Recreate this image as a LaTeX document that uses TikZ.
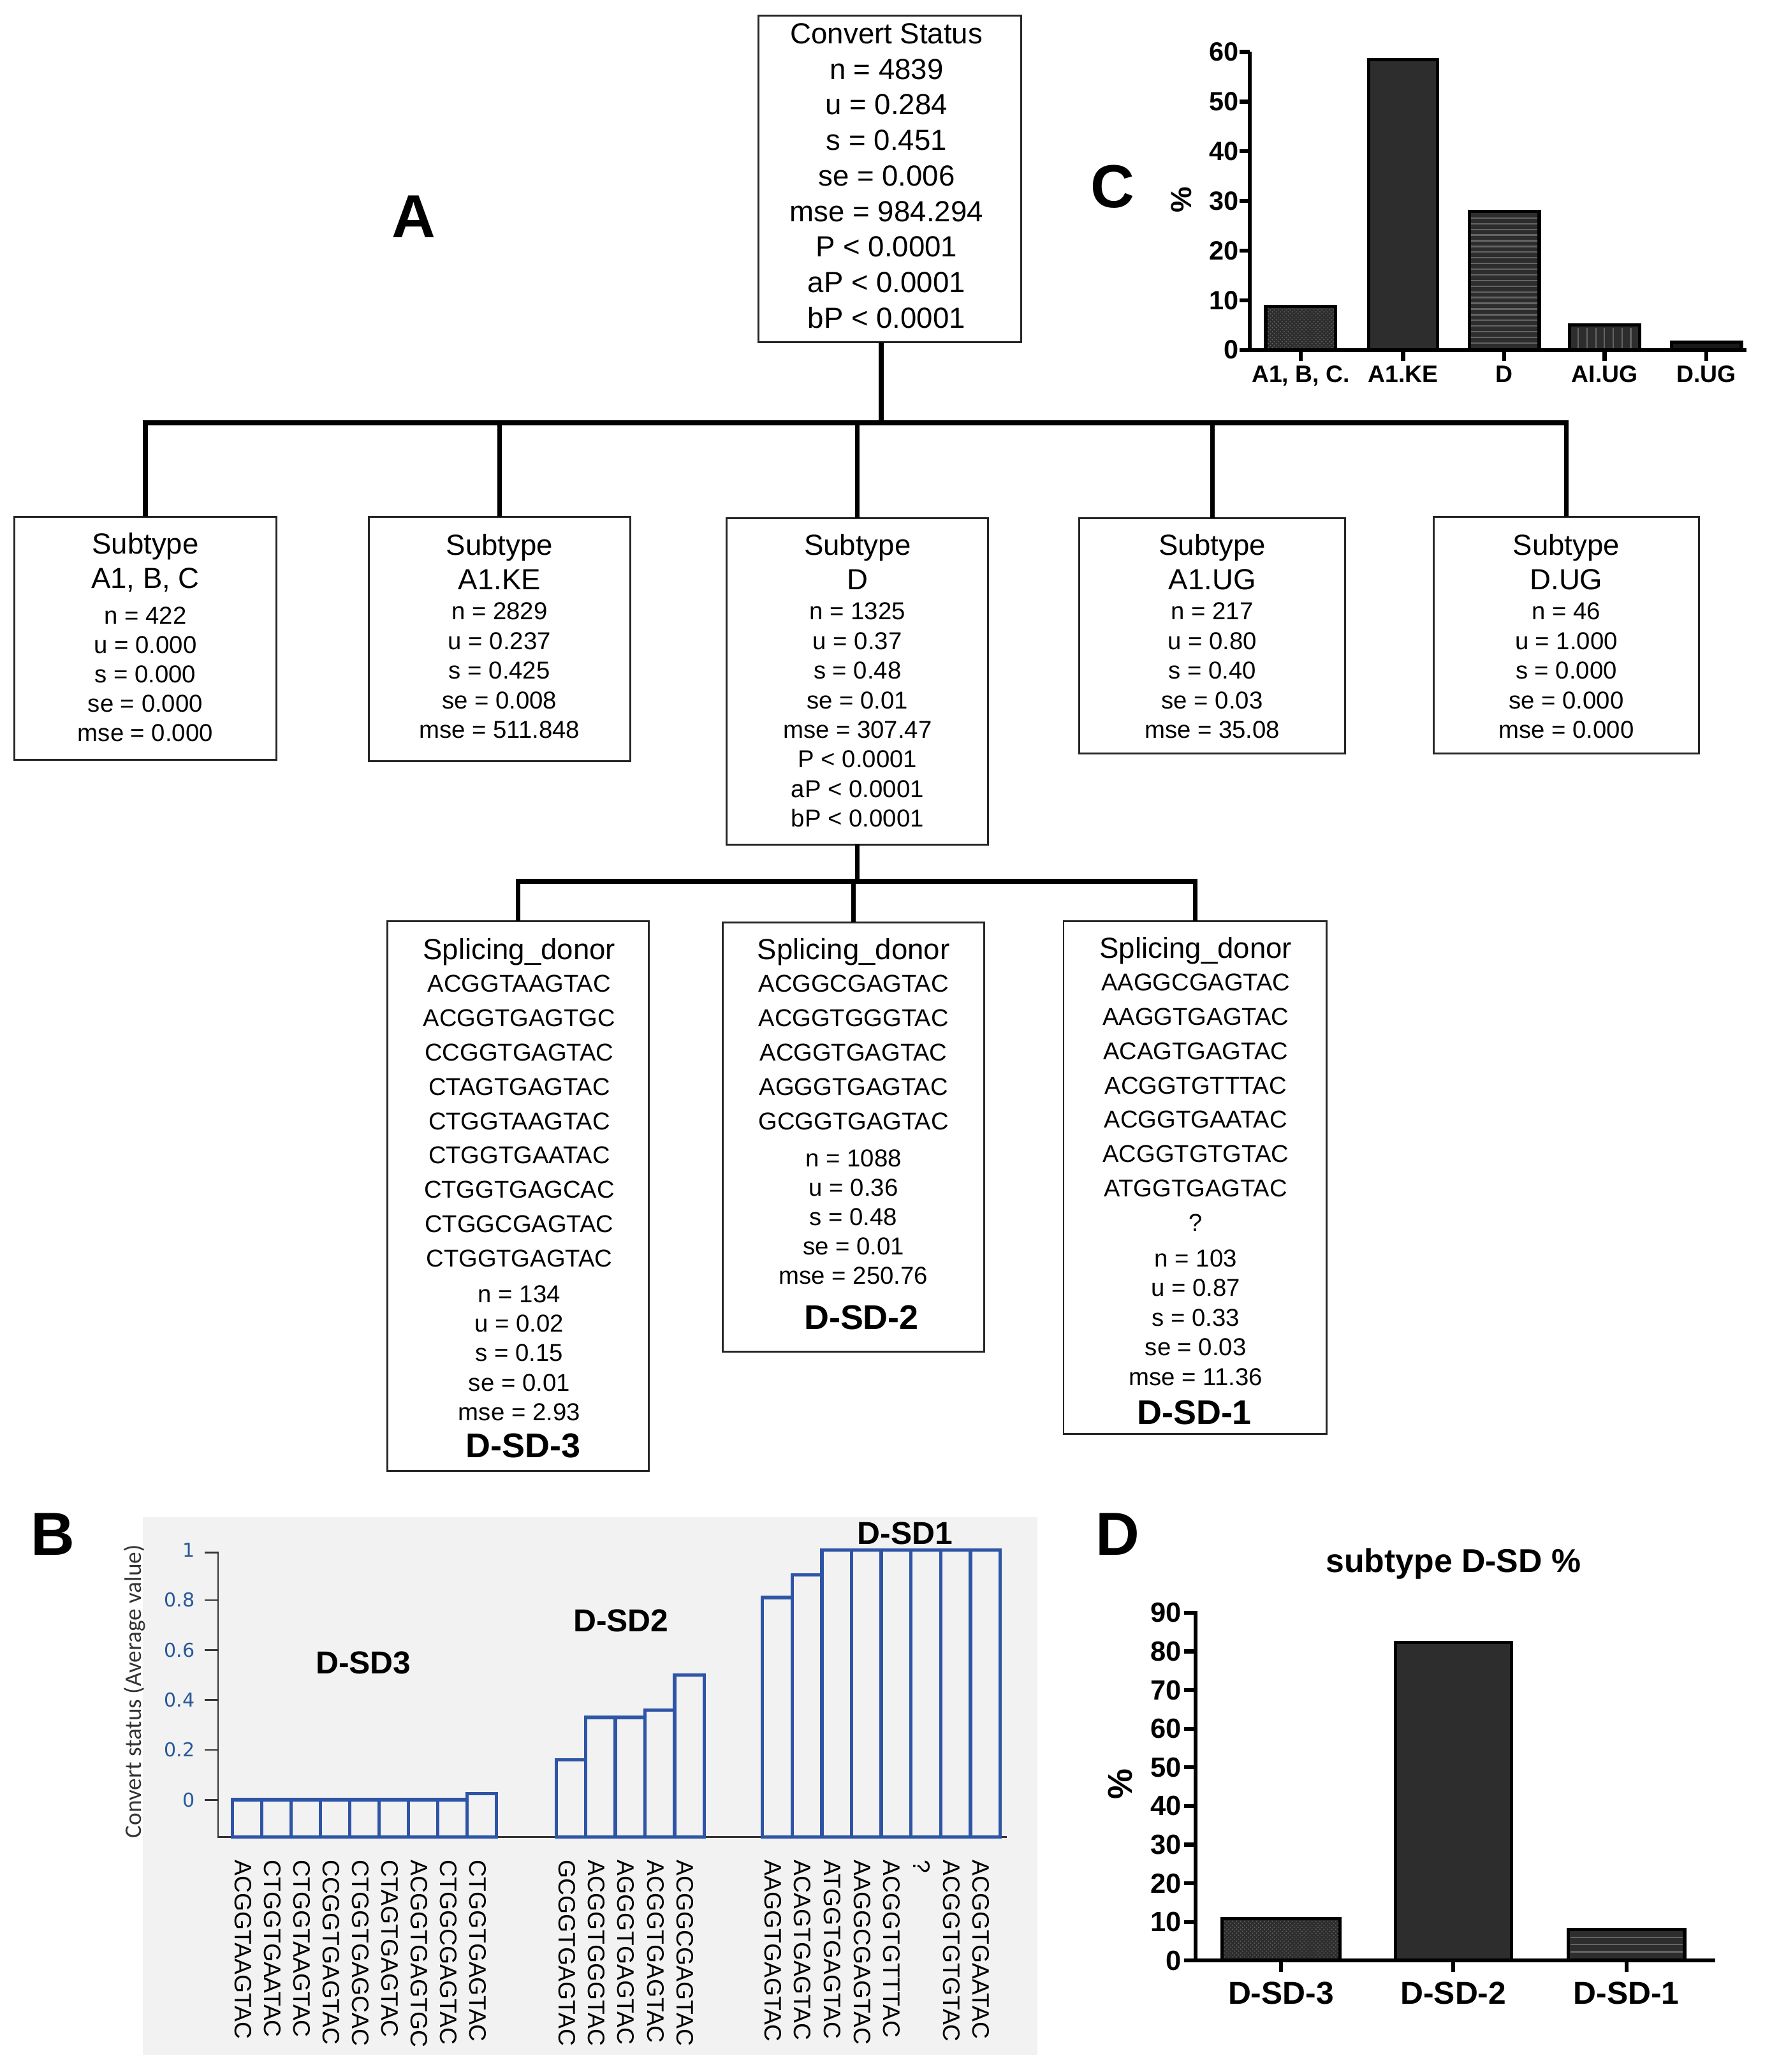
\documentclass[tikz,border=0pt]{standalone}
\usepackage{fontspec}
\setmainfont{Liberation Sans}
\newfontfamily\axfont{DejaVu Sans}
\newfontfamily\ylfont{Carlito}
\usetikzlibrary{patterns}
\newcommand\myfs[1]{\fontsize{#1}{#1}\selectfont}
\definecolor{barblue}{RGB}{46,84,166}
\definecolor{tickblue}{RGB}{40,88,154}
\definecolor{bgB}{RGB}{242,242,242}
\definecolor{bardark}{RGB}{45,45,45}
\definecolor{barline}{RGB}{100,100,100}
\begin{document}
\begin{tikzpicture}[x=1pt,y=-1pt,
  tbox/.style={draw=black!85, line width=1.4pt, fill=white, inner sep=0pt, outer sep=0pt},
  conn/.style={line width=3.5pt, line join=miter},
  rt/.style={anchor=base, font=\myfs{22}},
  hdr/.style={anchor=base, font=\myfs{22}},
  dl/.style={anchor=base, font=\myfs{18.5}},
  sq/.style={anchor=base, font=\myfs{18.4}},
  sdlab/.style={anchor=base, font=\myfs{26}\bfseries},
  plet/.style={anchor=base, font=\myfs{46}\bfseries},
  axisline/.style={line width=3pt},
  barout/.style={draw=black, line width=2.5pt},
  ctick/.style={anchor=east, inner sep=0.5pt, font=\myfs{20}\bfseries},
  clab/.style={anchor=base, font=\myfs{18}\bfseries},
  dtick/.style={anchor=east, inner sep=0.5pt, font=\myfs{21}\bfseries},
  dlab/.style={anchor=base, font=\myfs{24}\bfseries},
  bbar/.style={draw=barblue, line width=2.6pt},
  bseq/.style={rotate=-90, anchor=west, font=\myfs{18}},
  btick/.style={anchor=east, font=\axfont\myfs{14.5}, text=tickblue},
  blab/.style={anchor=base, font=\myfs{24}\bfseries},
  hl/.style={draw=barline, line width=1.1pt}
]
\useasboundingbox (0,0) rectangle (1346,1568);

% ---------------- Panel A : tree ----------------
\node[tbox, minimum width=199pt, minimum height=247pt] (root) at (673.5,135.5) {};
\foreach \t [count=\i from 0] in {Convert Status, n = 4839, u = 0.284, s = 0.451, se = 0.006, mse = 984.294, P < 0.0001, aP < 0.0001, bP < 0.0001}
  \node[rt] at (671,{33+26.9*\i}) {\t};

\node[tbox, minimum width=198pt, minimum height=184pt] (m1) at (110,483) {};
\node[tbox, minimum width=198pt, minimum height=185pt] (m2) at (378,483.5) {};
\node[tbox, minimum width=198pt, minimum height=247pt] (m3) at (649,515.5) {};
\node[tbox, minimum width=201pt, minimum height=178pt] (m4) at (917.5,481) {};
\node[tbox, minimum width=201pt, minimum height=179pt] (m5) at (1185.5,480.5) {};

\node[tbox, minimum width=198pt, minimum height=416pt] (s3) at (392,905) {};
\node[tbox, minimum width=198pt, minimum height=325pt] (s2) at (646,860.5) {};
\node[tbox, minimum width=199pt, minimum height=388pt] (s1) at (904.5,891) {};

% connectors
\coordinate (rootout) at ([xshift=-6.5pt]root.south);
\coordinate (bus1) at (667,320);
\coordinate (bus2) at (648,667);
\draw[conn] (rootout) -- (bus1);
\draw[conn] (m1.north) -- (m1.north |- bus1) -- (m5.north |- bus1) -- (m5.north);
\foreach \b in {m2,m3,m4} \draw[conn] (\b.north |- bus1) -- (\b.north);
\draw[conn] (m3.south) -- (m3.south |- bus2);
\draw[conn] (s3.north) -- (s3.north |- bus2) -- (s1.north |- bus2) -- (s1.north);
\draw[conn] (s2.north |- bus2) -- (s2.north);

% middle box texts
\node[hdr] at (110,419) {Subtype};
\node[hdr] at (110,445) {A1, B, C};
\foreach \t [count=\i from 0] in {n = 422, u = 0.000, s = 0.000, se = 0.000, mse = 0.000}
  \node[dl] at (110,{472+22.3*\i}) {\t};

\node[hdr] at (378,420) {Subtype};
\node[hdr] at (378,446) {A1.KE};
\foreach \t [count=\i from 0] in {n = 2829, u = 0.237, s = 0.425, se = 0.008, mse = 511.848}
  \node[dl] at (378,{469+22.4*\i}) {\t};

\node[hdr] at (649,420) {Subtype};
\node[hdr] at (649,446) {D};
\foreach \t [count=\i from 0] in {n = 1325, u = 0.37, s = 0.48, se = 0.01, mse = 307.47, P < 0.0001, aP < 0.0001, bP < 0.0001}
  \node[dl] at (649,{469+22.4*\i}) {\t};

\node[hdr] at (917.5,420) {Subtype};
\node[hdr] at (917.5,446) {A1.UG};
\foreach \t [count=\i from 0] in {n = 217, u = 0.80, s = 0.40, se = 0.03, mse = 35.08}
  \node[dl] at (917.5,{469+22.4*\i}) {\t};

\node[hdr] at (1185.5,420) {Subtype};
\node[hdr] at (1185.5,446) {D.UG};
\foreach \t [count=\i from 0] in {n = 46, u = 1.000, s = 0.000, se = 0.000, mse = 0.000}
  \node[dl] at (1185.5,{469+22.4*\i}) {\t};

% bottom box texts
\node[hdr] at (393,726) {Splicing\_donor};
\foreach \t [count=\i from 0] in {ACGGTAAGTAC, ACGGTGAGTGC, CCGGTGAGTAC, CTAGTGAGTAC, CTGGTAAGTAC, CTGGTGAATAC, CTGGTGAGCAC, CTGGCGAGTAC, CTGGTGAGTAC}
  \node[sq] at (393,{750.7+26*\i}) {\t};
\foreach \t [count=\i from 0] in {n = 134, u = 0.02, s = 0.15, se = 0.01, mse = 2.93}
  \node[dl] at (393,{985.7+22.3*\i}) {\t};
\node[sdlab] at (396,1103) {D-SD-3};

\node[hdr] at (646,726) {Splicing\_donor};
\foreach \t [count=\i from 0] in {ACGGCGAGTAC, ACGGTGGGTAC, ACGGTGAGTAC, AGGGTGAGTAC, GCGGTGAGTAC}
  \node[sq] at (646,{750.7+26*\i}) {\t};
\foreach \t [count=\i from 0] in {n = 1088, u = 0.36, s = 0.48, se = 0.01, mse = 250.76}
  \node[dl] at (646,{882.7+22.3*\i}) {\t};
\node[sdlab] at (652,1006) {D-SD-2};

\node[hdr] at (905,725) {Splicing\_donor};
\foreach \t [count=\i from 0] in {AAGGCGAGTAC, AAGGTGAGTAC, ACAGTGAGTAC, ACGGTGTTTAC, ACGGTGAATAC, ACGGTGTGTAC, ATGGTGAGTAC, ?}
  \node[sq] at (905,{749.7+26*\i}) {\t};
\foreach \t [count=\i from 0] in {n = 103, u = 0.87, s = 0.33, se = 0.03, mse = 11.36}
  \node[dl] at (905,{958.7+22.4*\i}) {\t};
\node[sdlab] at (904,1078) {D-SD-1};

% panel letters
\node[plet] at (313,180) {A};
\node[plet] at (842,157) {C};
\node[plet] at (40,1177) {B};
\node[plet] at (846,1177) {D};

% ---------------- Panel C : bar chart ----------------
\fill[bardark] (958,265) rectangle (1011,232);
\path[pattern=crosshatch dots, pattern color=barline] (958,265) rectangle (1011,232);
\draw[barout] (958,265) rectangle (1011,232);
\fill[bardark] (1036,265) rectangle (1088,45);
\draw[barout] (1036,265) rectangle (1088,45);
\fill[bardark] (1112,265) rectangle (1165,160);
\foreach \yy in {165,169.3,...,262} \draw[hl] (1113.5,\yy) -- (1163.5,\yy);
\draw[barout] (1112,265) rectangle (1165,160);
\fill[bardark] (1188,265) rectangle (1241,246);
\foreach \xx in {1194.6,1201.2,...,1236} \draw[hl] (\xx,248) -- (\xx,264);
\draw[barout] (1188,265) rectangle (1241,246);
\fill[black!90] (1265,265) rectangle (1318,259);
\draw[barout] (1265,265) rectangle (1318,259);

\draw[axisline] (946,39) -- (946,266.5);
\draw[axisline] (944.5,265) -- (1322,265);
\foreach \v in {0,10,...,60} {
  \draw[axisline] (938,{264.8-3.757*\v}) -- (946,{264.8-3.757*\v});
  \node[ctick] at (938,{264.8-3.757*\v}) {\v};
}
\foreach \xc/\t in {984.5/{A1, B, C.}, 1062/A1.KE, 1138.5/D, 1214.5/AI.UG, 1291.5/D.UG} {
  \draw[axisline] (\xc,265) -- (\xc,273);
  \node[clab] at (\xc,289.5) {\t};
}
\node[rotate=90, font=\myfs{22}\bfseries] at (894,151) {\%};

% ---------------- Panel B ----------------
\fill[bgB] (108,1148) rectangle (785,1555);
\node[rotate=90, font=\ylfont\myfs{18}, text=black!80] at (102,1280) {Convert status (Average value)};
\draw[black!80, line width=1.3pt] (155,1175) -- (165,1175) -- (165,1390) -- (762,1390);
\foreach \v in {0,0.2,0.4,0.6,0.8} \draw[black!80, line width=1.3pt] (155,{1362-189*\v}) -- (165,{1362-189*\v});
\foreach \v/\l in {0/0, 0.2/0.2, 0.4/0.4, 0.6/0.6, 0.8/0.8, 1/1}
  \node[btick] at (151,{1362-189*\v}) {\l};

\foreach \v [count=\i from 0] in {0,0,0,0,0,0,0,0,0.025}
  \draw[bbar] ({176+22.2*\i},1390) rectangle ({198.2+22.2*\i},{1362-189*\v});
\foreach \v [count=\i from 0] in {0.16,0.33,0.33,0.36,0.5}
  \draw[bbar] ({421+22.4*\i},1390) rectangle ({443.4+22.4*\i},{1362-189*\v});
\foreach \v [count=\i from 0] in {0.81,0.9,1,1,1,1,1,1}
  \draw[bbar] ({577+22.5*\i},1390) rectangle ({599.5+22.5*\i},{1362-189*\v});

\foreach \t [count=\i from 0] in {ACGGTAAGTAC, CTGGTGAATAC, CTGGTAAGTAC, CCGGTGAGTAC, CTGGTGAGCAC, CTAGTGAGTAC, ACGGTGAGTGC, CTGGCGAGTAC, CTGGTGAGTAC}
  \node[bseq] at ({184+22.2*\i},1404) {\t};
\foreach \t [count=\i from 0] in {GCGGTGAGTAC, ACGGTGGGTAC, AGGGTGAGTAC, ACGGTGAGTAC, ACGGCGAGTAC}
  \node[bseq] at ({429+22.4*\i},1404) {\t};
\foreach \t [count=\i from 0] in {AAGGTGAGTAC, ACAGTGAGTAC, ATGGTGAGTAC, AAGGCGAGTAC, ACGGTGTTTAC, ?, ACGGTGTGTAC, ACGGTGAATAC}
  \node[bseq] at ({585+22.5*\i},1404) {\t};

\node[blab] at (275,1266.6) {D-SD3};
\node[blab] at (470,1234.6) {D-SD2};
\node[blab] at (685,1168.6) {D-SD1};

% ---------------- Panel D ----------------
\node[anchor=base, font=\myfs{25}\bfseries] at (1100,1190) {subtype D-SD \%};
\fill[bardark] (925,1483.7) rectangle (1014,1452);
\path[pattern=crosshatch dots, pattern color=barline] (925,1483.7) rectangle (1014,1452);
\draw[barout] (925,1483.7) rectangle (1014,1452);
\fill[bardark] (1056,1483.7) rectangle (1144,1243);
\draw[barout] (1056,1483.7) rectangle (1144,1243);
\fill[bardark] (1187,1483.7) rectangle (1275,1460);
\foreach \yy in {1466,1471.5,1477} \draw[hl] (1188.5,\yy) -- (1273.5,\yy);
\draw[barout] (1187,1483.7) rectangle (1275,1460);

\draw[axisline] (905,1219) -- (905,1485.2);
\draw[axisline] (903.5,1483.7) -- (1298,1483.7);
\foreach \v in {0,10,...,90} {
  \draw[axisline] (896,{1483.7-2.925*\v}) -- (905,{1483.7-2.925*\v});
  \node[dtick] at (895,{1483.7-2.925*\v}) {\v};
}
\foreach \xc/\t in {969.5/D-SD-3, 1100/D-SD-2, 1231/D-SD-1} {
  \draw[axisline] (\xc,1483.7) -- (\xc,1492);
  \node[dlab] at (\xc,1516.6) {\t};
}
\node[rotate=90, font=\myfs{26}\bfseries] at (848,1350) {\%};
\end{tikzpicture}
\end{document}
